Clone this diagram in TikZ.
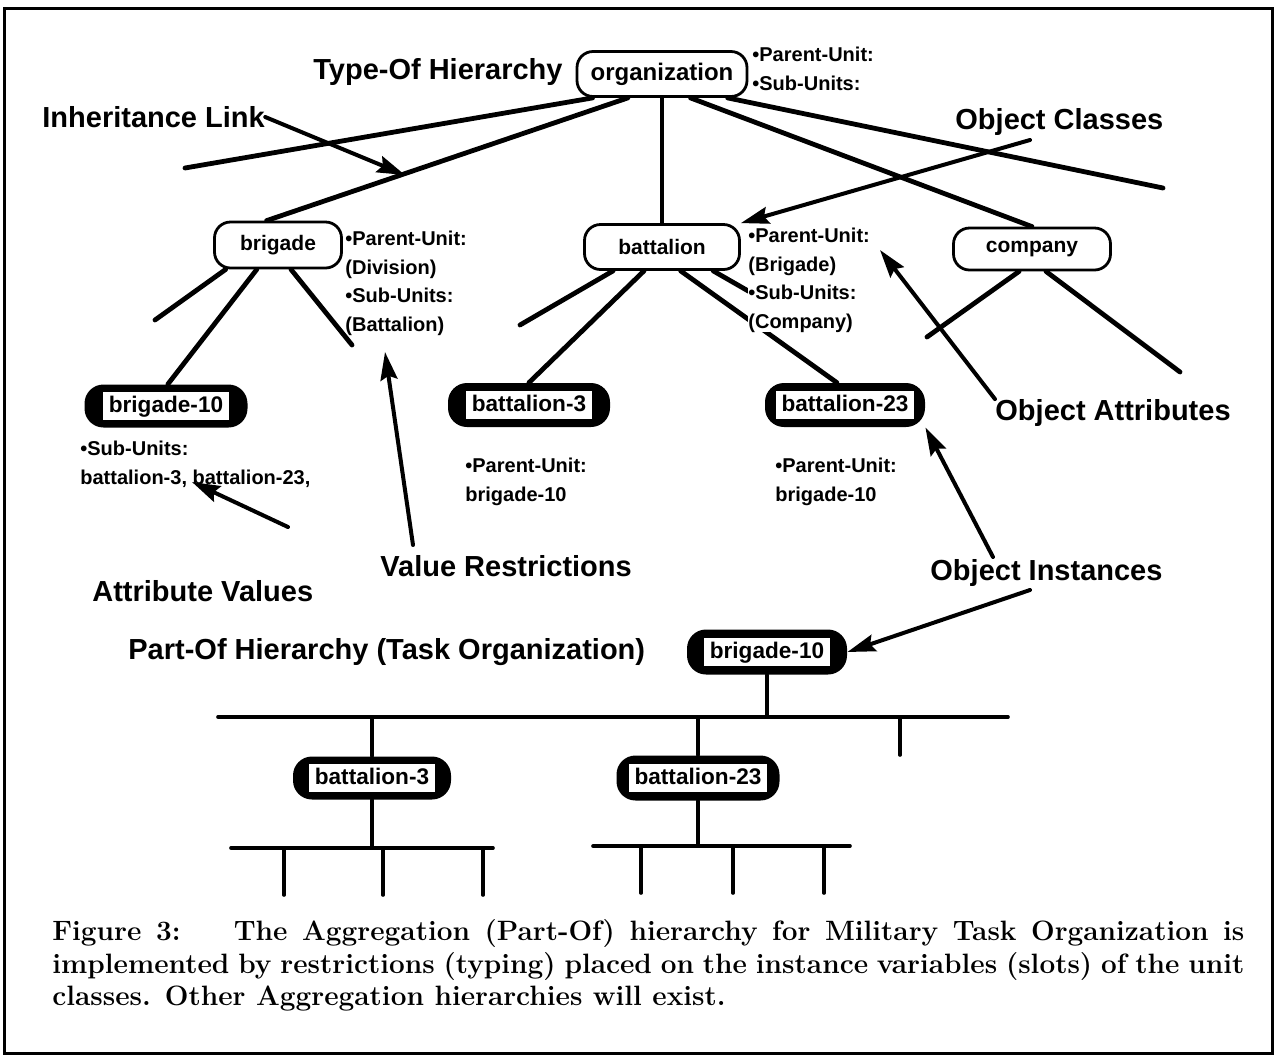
\documentclass[tikz,border=0pt]{standalone}
\usepackage{fontspec}
\newfontfamily\hv{Liberation Sans}
\usetikzlibrary{arrows.meta,calc}
% white slot inside the black instance boxes
\newcommand\slotbox[1]{{\setlength\fboxsep{1.5pt}\colorbox{white}{\rule[-2.6pt]{0pt}{11.2pt}\hspace{1.5pt}#1\hspace{1.5pt}}}}
\begin{document}
\begin{tikzpicture}[x=0.5pt,y=-0.5pt,
  cls/.style={draw, line width=1.4pt, rounded corners=8pt, fill=white, inner sep=0pt,
    font=\hv\bfseries\fontsize{10.5}{12}\selectfont},
  inst/.style={fill=black, rounded corners=9.5pt, inner sep=0pt,
    font=\hv\bfseries\fontsize{11.3}{13}\selectfont},
  tree/.style={line width=2.4pt, line cap=round},
  orgl/.style={line width=1.8pt, line cap=round},
  ptr/.style={line width=2pt, line cap=round, -{Stealth[length=14pt,width=8.5pt,inset=2pt]}},
  lbl/.style={font=\hv\bfseries\fontsize{14.5}{17}\selectfont, inner sep=0pt},
  attr/.style={font=\hv\bfseries\fontsize{10}{14.2}\selectfont, align=left, inner sep=0pt, anchor=north west}
]
\useasboundingbox (0,0) rectangle (1275,1057);
\draw[line width=1.5pt] (4,8) rectangle (1272,1053);

% ---------- type-of hierarchy: classes ----------
\node[cls, minimum width=85pt, minimum height=22.5pt, font=\hv\bfseries\fontsize{12}{14}\selectfont] (org) at (662,74) {organization};
\node[cls, minimum width=63.5pt, minimum height=23pt] (bg) at (278,245) {brigade};
\node[cls, minimum width=77.5pt, minimum height=22.5pt] (bn) at (662,247) {battalion};
\node[cls, minimum width=78.5pt, minimum height=21pt] (co) at (1032,249) {company};

% ---------- instances ----------
\node[inst, minimum width=81.5pt, minimum height=21.5pt] (b10) at (166,406) {\slotbox{brigade-10}\hspace{2pt}};
\node[inst, minimum width=81pt, minimum height=22pt] (b3) at (529,405) {\slotbox{battalion-3}\hspace{2pt}};
\node[inst, minimum width=80pt, minimum height=22pt] (b23) at (845,405) {\slotbox{battalion-23}\hspace{2pt}};

% free ends of the links
\coordinate (fA) at (185,168);
\coordinate (fE) at (1163,188);
\coordinate (bgL) at (155,320);
\coordinate (bgR) at (352,345);
\coordinate (bnL) at (520,325);
\coordinate (bnS) at (750,292);
\coordinate (coL) at (927,337);
\coordinate (coR) at (1180,372);

% links of the type-of hierarchy
\draw[tree] (org.-161) -- (fA);
\draw[tree] (org.-145) -- (bg.115);
\draw[tree] (org.south) -- (bn.north);
\draw[tree] (org.-40) -- (co.north);
\draw[tree] (org.-20) -- (fE);
\draw[tree] (bg.-155) -- (bgL);
\draw[tree] (bg.-131) -- (b10.85);
\draw[tree] (bg.-62) -- (bgR);
\draw[tree] (bn.-154) -- (bnL);
\draw[tree] (bn.-127) -- (b3.north);
\draw[tree] (bn.-52) -- (b23.110);
\draw[tree] (bn.-25) -- (bnS);
\draw[tree] (co.-120) -- (coL);
\draw[tree] (co.-58) -- (coR);

% slots of the classes and instances
\node[attr] (orgA) at (752,47) {•Parent-Unit:\\•Sub-Units:};
\node[attr] (bgA) at (345,231) {•Parent-Unit:\\(Division)\\•Sub-Units:\\(Battalion)};
\node[attr, fill=white] (bnA) at (748,228) {•Parent-Unit:\\(Brigade)\\•Sub-Units:\\(Company)};
\node[attr] (b10A) at (80,441) {•Sub-Units:\\battalion-3, battalion-23,};
\node[attr] (b3A) at (465,458) {•Parent-Unit:\\brigade-10};
\node[attr] (b23A) at (775,458) {•Parent-Unit:\\brigade-10};

% ---------- callout labels ----------
\node[lbl, anchor=east] (toh) at (563,72) {Type-Of Hierarchy};
\node[lbl, anchor=west] (inh) at (42,117) {Inheritance Link};
\node[lbl, anchor=west] (ocl) at (955,122) {Object Classes};
\node[lbl, anchor=west] (oat) at (995,413) {Object Attributes};
\node[lbl, anchor=west] (vre) at (380,566) {Value Restrictions};
\node[lbl, anchor=west] (ava) at (92,591) {Attribute Values};
\node[lbl, anchor=west] (oin) at (930,573) {Object Instances};

\coordinate (inhH) at (405,175);
\coordinate (oclT) at (1030,140);
\coordinate (oatH) at (880,250);
\coordinate (vreT) at (413,545);
\coordinate (vreH) at (385,352);
\coordinate (avaT) at (288,527);
\coordinate (avaH) at (192,482);
\coordinate (oinA) at (993,557);
\coordinate (oinB) at (1030,590);

\draw[ptr] (inh.east) -- (inhH);
\draw[ptr] (oclT) -- (bn.north east);
\draw[ptr] (oat.north west) -- (oatH);
\draw[ptr] (vreT) -- (vreH);
\draw[ptr] (avaT) -- (avaH);
\draw[ptr] (oinA) -- (b23.south east);

% ---------- part-of hierarchy ----------
\node[lbl, anchor=west] (poh) at (128,652) {Part-Of Hierarchy (Task Organization)};
\node[inst, minimum width=80pt, minimum height=22.5pt] (p10) at (767,652) {\slotbox{brigade-10}\hspace{2pt}};
\node[inst, minimum width=79pt, minimum height=21.5pt] (p3) at (372,778) {\slotbox{battalion-3}\hspace{2pt}};
\node[inst, minimum width=81.5pt, minimum height=22.5pt] (p23) at (698,778) {\slotbox{battalion-23}\hspace{2pt}};
\draw[ptr] (oinB) -- (p10.east);

\coordinate (barL) at (218,717);
\coordinate (barR) at (1008,717);
\coordinate (tick) at (900,755);
\draw[orgl] (barL) -- (barR);
\draw[orgl] (p10.south) -- (p10.south |- barL);
\draw[orgl] (p3.north |- barL) -- (p3.north);
\draw[orgl] (p23.north |- barL) -- (p23.north);
\draw[orgl] (tick |- barL) -- (tick);

\coordinate (sbL) at (231,848);
\coordinate (sbR) at (493,848);
\draw[orgl] (sbL) -- (sbR);
\draw[orgl] (p3.south) -- (p3.south |- sbL);
\foreach \x in {284,383,483} \draw[orgl] (\x,848) -- (\x,895);
\coordinate (sdL) at (593,846);
\coordinate (sdR) at (850,846);
\draw[orgl] (sdL) -- (sdR);
\draw[orgl] (p23.south) -- (p23.south |- sdL);
\foreach \x in {641,733,824} \draw[orgl] (\x,846) -- (\x,893);

% ---------- caption ----------
\node[anchor=north west, inner sep=0pt, text width=596pt, align=justify,
      font=\fontsize{14}{16.3}\selectfont\bfseries] (cap) at (52,919)
  {Figure 3:\hspace{1.9em}The Aggregation (Part-Of) hierarchy for Military Task Organization is\linebreak
   implemented by restrictions (typing) placed on the instance variables (slots) of the unit\linebreak
   classes. Other Aggregation hierarchies will exist.};
\end{tikzpicture}
\end{document}
